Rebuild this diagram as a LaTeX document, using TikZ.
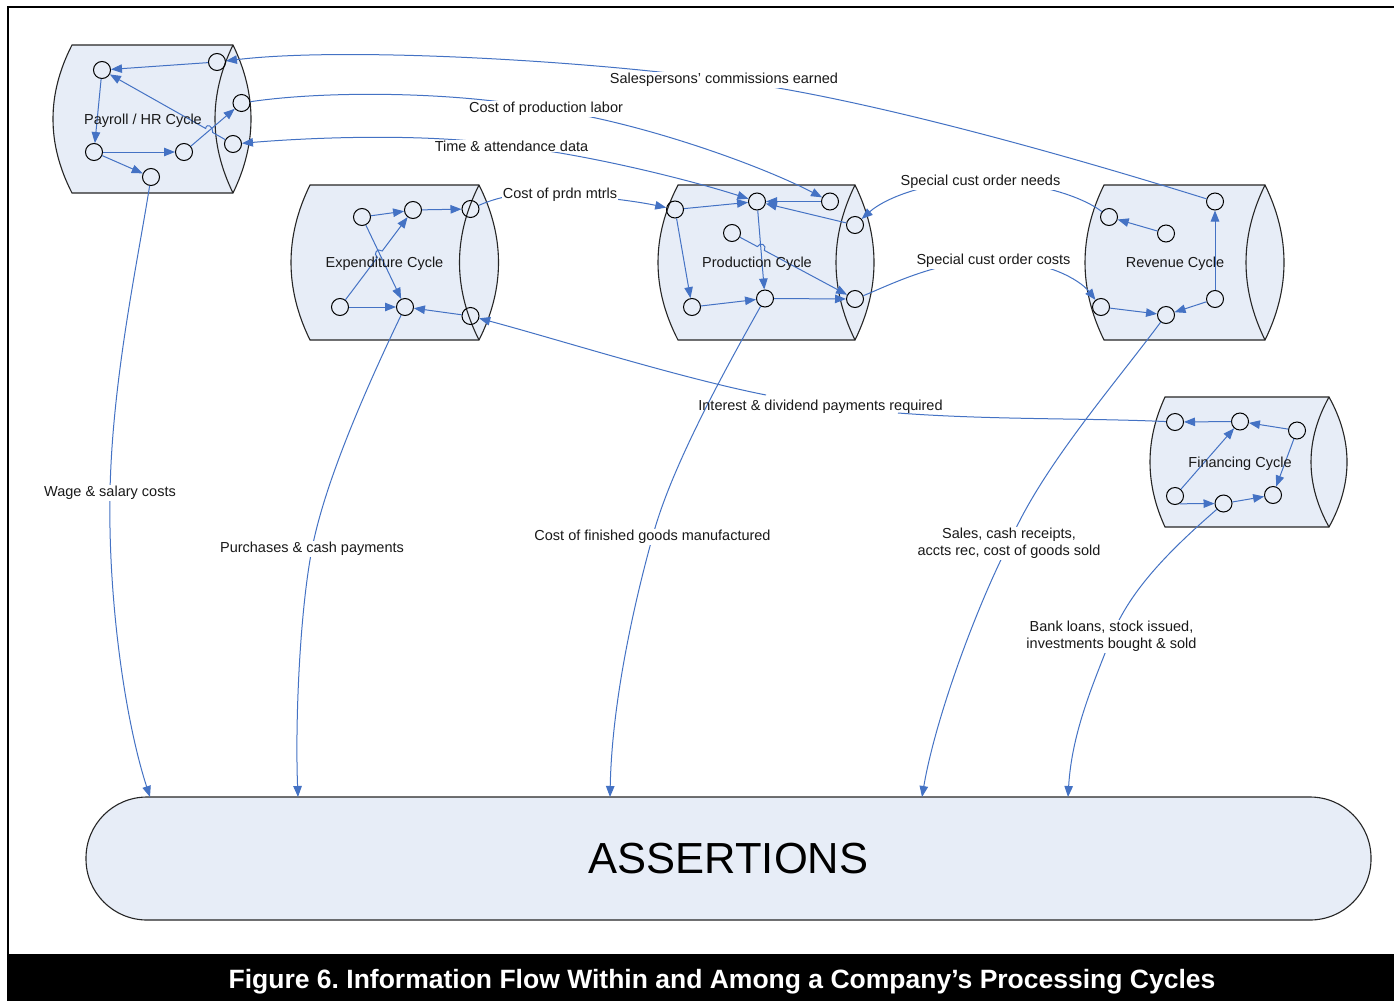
\documentclass[tikz,border=0pt]{standalone}
\usepackage{fontspec}
\setmainfont{Liberation Sans}
\usetikzlibrary{arrows.meta}
\definecolor{cylfill}{RGB}{231,237,247}
\definecolor{flow}{RGB}{68,114,196}
\pgfdeclarelayer{paper}\pgfdeclarelayer{bg}\pgfdeclarelayer{fg}\pgfsetlayers{paper,bg,main,fg}
\newcommand{\mycyl}[6]{%
  \filldraw[cylbody] (#1,#3) -- (#2,#3)
     .. controls ({#2+4/3*#6},{#3+(#4-#3)/3}) and ({#2+4/3*#6},{#4-(#4-#3)/3}) .. (#2,#4)
     -- (#1,#4)
     .. controls ({#1-4/3*#5},{#4-(#4-#3)/3}) and ({#1-4/3*#5},{#3+(#4-#3)/3}) .. cycle;
  \draw[cylline] (#2,#3) .. controls ({#2-4/3*#6},{#3+(#4-#3)/3}) and ({#2-4/3*#6},{#4-(#4-#3)/3}) .. (#2,#4);
}
\begin{document}
\begin{tikzpicture}[x=1pt,y=-1pt,
  cylbody/.style={fill=cylfill,draw=black!85,line width=1.1pt},
  cylline/.style={draw=black!85,line width=1.1pt},
  dot/.style={circle,draw=black,line width=1pt,minimum size=17pt,inner sep=0pt},
  flowline/.style={draw=flow,line width=1pt},
  flowarrow/.style={-{Triangle[length=11pt,width=8.5pt]}},
  cyclab/.style={font=\fontsize{14.5}{17}\selectfont,text=black!90,inner sep=0pt},
  flowlab/.style={font=\fontsize{14.5}{17}\selectfont,text=black!90,fill=white,inner sep=1pt,align=center},
]
\useasboundingbox (0,0) rectangle (1394,1001);
\begin{pgfonlayer}{paper}
\fill[white] (0,0) rectangle (1394,1001);
\end{pgfonlayer}
% frame
\draw[line width=2pt] (7.5,955) -- (7.5,6.5) -- (1394,6.5);
\fill[black] (7,954) rectangle (1394,1001);
\node[text=white,font=\fontsize{26.5}{30}\selectfont\bfseries] (title) at (722,982) {Figure 6.\ Information Flow Within and Among a Company’s Processing Cycles};

% cylinders
\begin{pgfonlayer}{bg}
\mycyl{72}{233}{45}{193}{19}{18}
\mycyl{310}{479}{185}{340}{19}{19.5}
\mycyl{678}{855}{185}{340}{20}{19}
\mycyl{1104}{1265}{185}{340}{19}{19}
\mycyl{1165}{1329}{397}{527}{15}{18}
\node[cylbody,rounded corners=61pt,minimum width=1285pt,minimum height=123pt,inner sep=0pt,
      font=\fontsize{43.5}{48}\selectfont] (A) at (728.5,858.5) {ASSERTIONS};
\end{pgfonlayer}

\coordinate (a1) at (150,797);
\coordinate (a2) at (298,797);
\coordinate (a3) at (610,797);
\coordinate (a4) at (922,797);
\coordinate (a5) at (1068,797);

% cycle labels
\begin{pgfonlayer}{fg}
\node[cyclab] (lpay) at (143,121) {Payroll / HR Cycle};
\node[cyclab] (lexp) at (384.5,264) {Expenditure Cycle};
\node[cyclab] (lpro) at (757,264) {Production Cycle};
\node[cyclab] (lrev) at (1175,264) {Revenue Cycle};
\node[cyclab] (lfin) at (1240,464) {Financing Cycle};
% flow labels
\node[flowlab] (salab) at (724,80) {Salespersons’ commissions earned};
\node[flowlab] (clab) at (546,109) {Cost of production labor};
\node[flowlab] (tlab) at (511.5,146) {Time \& attendance data};
\node[flowlab] (mlab) at (560,195) {Cost of prdn mtrls};
\node[flowlab] (nlab) at (980.5,182) {Special cust order needs};
\node[flowlab] (olab) at (993.5,261) {Special cust order costs};
\node[flowlab] (wlab) at (110,493) {Wage \& salary costs};
\node[flowlab] (plab) at (312,549) {Purchases \& cash payments};
\node[flowlab] (flab) at (652.5,537) {Cost of finished goods manufactured};
\node[flowlab] (slab) at (1009,543.5) {Sales, cash receipts,\\accts rec, cost of goods sold};
\node[flowlab] (blab) at (1111.5,636.5) {Bank loans, stock issued,\\investments bought \& sold};
\node[cyclab] (ilab) at (820.5,407) {Interest \& dividend payments required};
\end{pgfonlayer}
\coordinate (ik1) at (766,395);
\coordinate (ik2) at (898,413);

% payroll dots
\node[dot] (p1) at (102,70) {};
\node[dot] (p2) at (217,62) {};
\node[dot] (p3) at (241.5,103) {};
\node[dot] (p4) at (233,144) {};
\node[dot] (p5) at (94,152) {};
\node[dot] (p6) at (184,152) {};
\node[dot] (p7) at (151,177) {};
% expenditure dots
\node[dot] (e1) at (362,217) {};
\node[dot] (e2) at (413,210) {};
\node[dot] (e3) at (470.5,209) {};
\node[dot] (e4) at (340,307) {};
\node[dot] (e5) at (405,307) {};
\node[dot] (e6) at (470.5,316) {};
% production dots
\node[dot] (q1) at (675,209.5) {};
\node[dot] (q2) at (757,201.5) {};
\node[dot] (q3) at (830,201.5) {};
\node[dot] (q4) at (855,225) {};
\node[dot] (q5) at (732,233) {};
\node[dot] (q6) at (692,307) {};
\node[dot] (q7) at (765,298.5) {};
\node[dot] (q8) at (855,299) {};
% revenue dots
\node[dot] (v1) at (1109,217) {};
\node[dot] (v2) at (1166,233.5) {};
\node[dot] (v3) at (1215,201.5) {};
\node[dot] (v4) at (1101,307) {};
\node[dot] (v5) at (1166,315) {};
\node[dot] (v6) at (1215,299) {};
% financing dots
\node[dot] (f1) at (1175,422) {};
\node[dot] (f2) at (1240,421.5) {};
\node[dot] (f3) at (1297,430.5) {};
\node[dot] (f4) at (1175,496) {};
\node[dot] (f5) at (1223.5,503.5) {};
\node[dot] (f6) at (1273,495) {};

% internal flows
\begin{scope}[flowline,flowarrow]
\draw (p2) -- (p1);
\draw (p1) -- (p5);
\draw (p5) -- (p6);
\draw (p5) -- (p7);
\draw (p6) -- (p3);
\draw (p4) -- (212.7,132.5) .. controls (213.5,126.5) and (206.5,122.5) .. (205.7,128.5) -- (p1);
\draw (e1) -- (e2);
\draw (e2) -- (e3);
\draw (e1) -- (e5);
\draw (e4) -- (377.4,257.4) .. controls (372.6,253.8) and (377.4,247.4) .. (382.2,251.0) -- (e2);
\draw (e4) -- (e5);
\draw (e6) -- (e5);
\draw (q1) -- (q2);
\draw (q3) -- (q2);
\draw (q4) -- (q2);
\draw (q1) -- (q6);
\draw (q2) -- (q7);
\draw (q5) -- (757.4,246.6) .. controls (760.2,241.3) and (767.2,245.1) .. (764.4,250.4) -- (q8);
\draw (q6) -- (q7);
\draw (q7) -- (q8);
\draw (v2) -- (v1);
\draw (v6) -- (v3);
\draw (v6) -- (v5);
\draw (v4) -- (v5);
\draw (f2) -- (f1);
\draw (f3) -- (f2);
\draw (f3) -- (f6);
\draw (f4) -- (f2);
\draw (f4.-60) -- (f5);
\draw (f5) -- (f6);
\end{scope}

% flows between cycles
\begin{scope}[flowline]
\draw[flowarrow] (v3) .. controls (1050,150) and (850,95) .. (salab.center) .. controls (600,62) and (350,46) .. (p2);
\draw[flowarrow] (p3) .. controls (330,90) and (460,92) .. (clab.center) .. controls (640,122) and (760,165) .. (q3);
\draw[{Triangle[length=11pt,width=8.5pt]}-{Triangle[length=11pt,width=8.5pt]}] (p4) .. controls (330,136) and (440,134) .. (tlab.center) .. controls (590,155) and (690,180) .. (q2);
\draw[flowarrow] (e3) .. controls (500,196) and (530,190) .. (mlab.center) .. controls (600,196) and (640,202) .. (q1);
\draw[flowarrow] (v1) .. controls (1080,195) and (1030,180) .. (nlab.center) .. controls (930,180) and (885,198) .. (q4);
\draw[flowarrow] (q8) .. controls (890,285) and (940,259) .. (olab.center) .. controls (1045,259) and (1080,280) .. (v4);
\draw[flowarrow] (p7) .. controls (138,260) and (112,380) .. (wlab.center) .. controls (108,600) and (125,720) .. (a1);
\draw[flowarrow] (e5) .. controls (370,380) and (325,480) .. (plab.center) .. controls (300,610) and (295,720) .. (a2);
\draw[flowarrow] (q7) .. controls (722,375) and (670,470) .. (flab.center) .. controls (635,600) and (612,700) .. (a3);
\draw[flowarrow] (v5) .. controls (1110,390) and (1040,470) .. (slab.center) .. controls (975,610) and (935,720) .. (a4);
\draw[flowarrow] (f5) .. controls (1170,550) and (1130,590) .. (blab.center) .. controls (1095,680) and (1072,730) .. (a5);
\draw[flowarrow] (ik1) .. controls (680,378) and (560,340) .. (e6);
\draw (ik2) .. controls (990,420) and (1090,418) .. (f1);
\end{scope}
\end{tikzpicture}
\end{document}
